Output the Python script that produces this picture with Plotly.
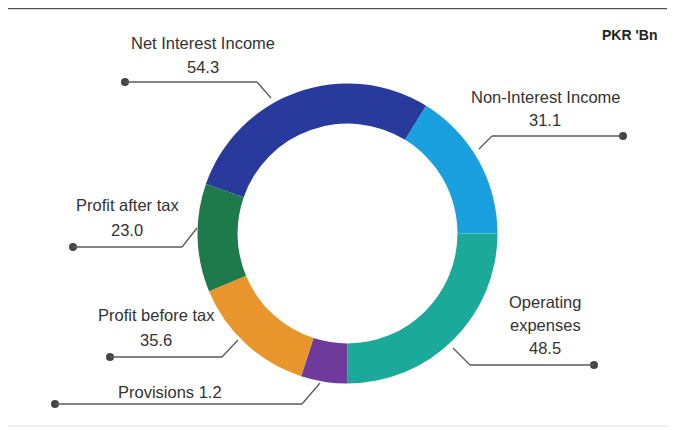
import plotly.graph_objects as go

# ---- data ----
categories = ["Net Interest Income", "Non-Interest Income", "Operating expenses",
              "Provisions", "Profit before tax", "Profit after tax"]
values = [54.3, 31.1, 48.5, 1.2, 35.6, 23.0]
# drawn share of each slice (degrees)
slice_sizes = [102.3, 58.4, 90.0, 18.0, 49.4, 41.9]
colors = ["#283a9c", "#1aa0de", "#1ba99a", "#6e3a9c", "#e8962c", "#1e7a4a"]
unit_label = "PKR 'Bn"

W, H = 675, 430
OFF = 8  # page body margin
cx, cy, R = 347.5, 233.5, 150.0

fig = go.Figure()

fig.add_trace(go.Pie(
    labels=categories, values=slice_sizes, sort=False, direction="clockwise",
    rotation=289.3, hole=0.733, textinfo="none", hoverinfo="skip",
    marker=dict(colors=colors, line=dict(width=0)), showlegend=False,
    domain=dict(x=[(cx - OFF - R) / W, (cx - OFF + R) / W],
                y=[(H - (cy - OFF) - R) / H, (H - (cy - OFF) + R) / H]),
))

# label layout: (text center x, first line y, line gap, dot, elbow, end)
label_layout = [
    (203, 43, 24, (125, 82), (257, 82), (271, 98)),
    (545, 97, 23, (623, 136), (492, 136), (479, 149)),
    (545, 302, 23, (594, 365), (470, 365), (453, 348)),
    (170, 392, 23, (55, 404), (302, 404), (320, 383)),
    (156, 315, 25, (110, 357), (222, 357), (238, 340)),
    (127, 205, 25, (73, 247), (182, 247), (197, 228)),
]
label_texts = [
    ["Net Interest Income", f"{values[0]:.1f}"],
    ["Non-Interest Income", f"{values[1]:.1f}"],
    ["Operating", "expenses", f"{values[2]:.1f}"],
    [f"Provisions {values[3]:.1f}"],
    ["Profit before tax", f"{values[4]:.1f}"],
    ["Profit after tax", f"{values[5]:.1f}"],
]

line_col = "#5a5a5a"
dots_x, dots_y = [], []
for (tx, ty, gap, dot, elbow, end), lines in zip(label_layout, label_texts):
    fig.add_shape(type="line", xref="x", yref="y", x0=dot[0], y0=dot[1], x1=elbow[0], y1=elbow[1],
                  line=dict(color=line_col, width=1.3))
    fig.add_shape(type="line", xref="x", yref="y", x0=elbow[0], y0=elbow[1], x1=end[0], y1=end[1],
                  line=dict(color=line_col, width=1.3))
    dots_x.append(dot[0]); dots_y.append(dot[1])
    for i, t in enumerate(lines):
        fig.add_annotation(x=tx, y=ty + i * gap, xref="x", yref="y", text=t, showarrow=False,
                           font=dict(family="Liberation Sans, Arial", size=16.5, color="#333333"),
                           xanchor="center", yanchor="middle")

fig.add_trace(go.Scatter(x=dots_x, y=dots_y, mode="markers", hoverinfo="skip", showlegend=False,
                         marker=dict(size=8, color="#444444")))

fig.add_annotation(x=629, y=35, xref="x", yref="y", text=f"<b>{unit_label}</b>", showarrow=False,
                   font=dict(family="Liberation Sans, Arial", size=14, color="#222222"),
                   xanchor="center", yanchor="middle")

# frame lines
fig.add_shape(type="line", xref="x", yref="y", x0=5, y0=8, x1=690, y1=8,
              line=dict(color="#555555", width=2.5))
fig.add_shape(type="line", xref="x", yref="y", x0=0, y0=426, x1=690, y1=426,
              line=dict(color="#e8e8e8", width=1.5))

fig.update_layout(
    width=W, height=H, margin=dict(l=0, r=0, t=0, b=0),
    paper_bgcolor="white", plot_bgcolor="rgba(0,0,0,0)",
    xaxis=dict(range=[OFF, W + OFF], visible=False, fixedrange=True),
    yaxis=dict(range=[H + OFF, OFF], visible=False, fixedrange=True),
)

fig.write_html("out.html")
